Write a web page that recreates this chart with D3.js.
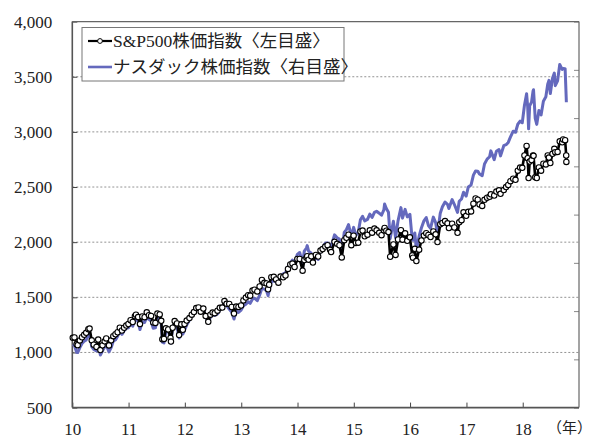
<!DOCTYPE html>
<html><head><meta charset="utf-8">
<script src="https://cdn.jsdelivr.net/npm/d3@7"></script>
<style>
html,body{margin:0;padding:0;background:#fff;}
svg text{font-family:"Liberation Serif","Noto Sans CJK JP",serif;fill:#222;}
</style></head>
<body><svg id="chart" width="593" height="438"></svg>
<script>
// ---- data (semi-monthly closes) ----
const dates = [
"2010-01-04","2010-01-15","2010-01-29","2010-02-05","2010-02-19","2010-03-05","2010-03-19","2010-04-01","2010-04-15","2010-04-23","2010-05-07","2010-05-20","2010-06-07","2010-06-18","2010-07-02","2010-07-16","2010-07-30","2010-08-09","2010-08-27","2010-09-10","2010-09-24","2010-10-08","2010-10-22","2010-11-05","2010-11-19","2010-12-03","2010-12-17","2010-12-31",
"2011-01-14","2011-01-28","2011-02-11","2011-02-18","2011-03-04","2011-03-16","2011-03-31","2011-04-15","2011-04-29","2011-05-13","2011-05-27","2011-06-10","2011-06-24","2011-07-07","2011-07-22","2011-08-01","2011-08-08","2011-08-19","2011-08-31","2011-09-15","2011-09-30","2011-10-03","2011-10-14","2011-10-27","2011-11-11","2011-11-25","2011-12-09","2011-12-19","2011-12-30",
"2012-01-13","2012-01-31","2012-02-15","2012-02-29","2012-03-15","2012-03-30","2012-04-13","2012-04-30","2012-05-15","2012-06-01","2012-06-15","2012-06-29","2012-07-13","2012-07-31","2012-08-15","2012-08-31","2012-09-14","2012-09-28","2012-10-15","2012-10-31","2012-11-15","2012-11-30","2012-12-14","2012-12-31",
"2013-01-15","2013-01-31","2013-02-15","2013-02-28","2013-03-15","2013-03-28","2013-04-15","2013-04-30","2013-05-15","2013-05-31","2013-06-14","2013-06-24","2013-07-01","2013-07-15","2013-07-31","2013-08-15","2013-08-30","2013-09-13","2013-09-30","2013-10-15","2013-10-31","2013-11-15","2013-11-29","2013-12-13","2013-12-31",
"2014-01-15","2014-02-03","2014-02-14","2014-02-28","2014-03-05","2014-03-14","2014-03-31","2014-04-11","2014-04-30","2014-05-15","2014-05-30","2014-06-13","2014-06-30","2014-07-15","2014-07-31","2014-08-07","2014-08-29","2014-09-15","2014-09-30","2014-10-15","2014-10-31","2014-11-14","2014-11-28","2014-12-16","2014-12-31",
"2015-01-15","2015-01-30","2015-02-13","2015-02-27","2015-03-13","2015-03-31","2015-04-15","2015-04-30","2015-05-15","2015-05-29","2015-06-15","2015-06-30","2015-07-15","2015-07-20","2015-07-31","2015-08-14","2015-08-25","2015-09-15","2015-09-29","2015-10-15","2015-11-03","2015-11-13","2015-11-30","2015-12-14","2015-12-31",
"2016-01-15","2016-01-20","2016-02-01","2016-02-11","2016-02-29","2016-03-15","2016-03-31","2016-04-15","2016-04-29","2016-05-13","2016-05-31","2016-06-15","2016-06-27","2016-07-15","2016-07-29","2016-08-15","2016-08-31","2016-09-09","2016-09-30","2016-10-14","2016-11-04","2016-11-15","2016-11-30","2016-12-13","2016-12-30",
"2017-01-13","2017-01-31","2017-02-15","2017-03-01","2017-03-15","2017-03-27","2017-04-13","2017-04-28","2017-05-15","2017-05-31","2017-06-08","2017-06-30","2017-07-14","2017-07-31","2017-08-10","2017-08-31","2017-09-15","2017-09-29","2017-10-13","2017-10-31","2017-11-15","2017-11-30","2017-12-15","2017-12-29",
"2018-01-12","2018-01-26","2018-02-02","2018-02-08","2018-02-15","2018-02-27","2018-03-09","2018-03-12","2018-03-23","2018-04-02","2018-04-16","2018-04-30","2018-05-15","2018-05-31","2018-06-12","2018-06-20","2018-06-29","2018-07-13","2018-07-25","2018-07-31","2018-08-15","2018-08-29","2018-09-14","2018-09-20","2018-10-03","2018-10-10","2018-10-11"
];
const sp500 = [
1133,1136,1074,1066,1109,1138,1160,1178,1211,1217,1110,1071,1050,1117,1022,1065,1101,1127,1064,1110,1148,1165,1183,1225,1199,1224,1244,1258,
1293,1276,1329,1343,1321,1257,1326,1320,1364,1338,1331,1271,1268,1353,1345,1287,1119,1123,1219,1209,1131,1099,1224,1285,1263,1158,1255,1205,1258,
1289,1312,1343,1366,1402,1408,1370,1398,1330,1278,1343,1362,1356,1379,1405,1407,1466,1441,1440,1412,1353,1416,1413,1426,
1472,1498,1519,1515,1561,1569,1553,1598,1658,1631,1626,1573,1614,1683,1686,1662,1633,1688,1682,1698,1757,1798,1806,1775,1848,
1848,1742,1838,1859,1873,1841,1872,1815,1884,1870,1924,1937,1960,1973,1931,1910,2003,1985,1972,1862,2018,2040,2068,1973,2059,
1993,1995,2097,2105,2053,2068,2107,2086,2123,2107,2085,2063,2108,2129,2104,2092,1868,1979,1884,2024,2109,2023,2080,2012,2044,
1880,1859,1940,1829,1932,2015,2060,2081,2065,2047,2097,2071,2001,2162,2174,2191,2171,2128,2168,2133,2085,2180,2199,2271,2239,
2275,2279,2349,2396,2385,2342,2329,2384,2403,2412,2434,2423,2459,2470,2438,2472,2500,2519,2553,2575,2565,2648,2676,2674,
2786,2873,2762,2581,2731,2744,2786,2783,2588,2582,2678,2648,2711,2705,2787,2767,2718,2801,2846,2816,2818,2914,2905,2931,2925,2786,2728
];
const nasdaq = [
2308,2288,2147,2141,2243,2327,2374,2402,2515,2530,2265,2204,2173,2309,2091,2179,2255,2305,2154,2242,2381,2402,2479,2578,2518,2592,2642,2653,
2755,2686,2809,2834,2784,2617,2781,2764,2873,2828,2796,2644,2652,2873,2858,2744,2358,2342,2579,2608,2415,2335,2667,2738,2679,2441,2647,2523,2605,
2710,2814,2915,2966,3056,3092,3011,3046,2893,2747,2872,2935,2908,2940,3031,3067,3184,3116,3044,2977,2836,3010,2971,3020,
3111,3142,3193,3160,3249,3268,3217,3329,3471,3456,3423,3321,3434,3607,3626,3606,3590,3722,3771,3794,3920,3986,4060,4000,4177,
4215,3996,4244,4308,4358,4245,4199,3999,4115,4069,4243,4310,4408,4416,4370,4334,4580,4519,4493,4215,4631,4688,4792,4547,4736,
4570,4635,4894,4964,4871,4901,5011,4941,5048,5070,5029,4987,5098,5219,5128,5048,4506,4861,4517,4870,5145,4927,5109,4953,5007,
4488,4472,4620,4267,4558,4728,4870,4938,4775,4718,4948,4835,4594,5030,5162,5262,5213,5126,5312,5214,5046,5276,5324,5464,5383,
5574,5615,5819,5904,5900,5840,5805,6048,6149,6199,6321,6140,6312,6348,6217,6428,6448,6496,6605,6728,6706,6873,6936,6903,
7261,7505,7240,6777,7256,7330,7560,7588,6993,6870,7157,7066,7351,7442,7704,7782,7510,7826,7932,7672,7774,8110,8010,8028,8025,7422,7329
];
const leftTicks = [500,1000,1500,2000,2500,3000,3500,4000];
const rightTicks = [1000,2000,3000,4000,5000,6000,7000,8000,9000];
const yearTicks = [2010,2011,2012,2013,2014,2015,2016,2017,2018];
const yearLabels = ["10","11","12","13","14","15","16","17","18"];
const legendLabels = ["S&P500株価指数〈左目盛〉","ナスダック株価指数〈右目盛〉"];
const unitLabel = "（年）";

// ---- drawing ----
const svg = d3.select("#chart");
const X0 = 72.3, X1 = 579, Y0 = 407.6, Y1 = 21.6;
const parse = d3.timeParse("%Y-%m-%d");
const x = d3.scaleTime().domain([new Date(2010,0,1), new Date(2019,0,1)]).range([X0, X1]);
const y = d3.scaleLinear().domain([500,4000]).range([Y0, Y1]);
const yR = d3.scaleLinear().domain([1000,9000]).range([Y0, Y1]);
const fmt = d3.format(",");

const spData = dates.map((d,i)=>({date:parse(d), v:sp500[i]}));
const nqData = dates.map((d,i)=>({date:parse(d), v:nasdaq[i]}));

// gridlines
svg.append("g").selectAll("line").data(leftTicks.filter(t=>t>500 && t<4000)).join("line")
  .attr("x1",X0).attr("x2",X1).attr("y1",d=>y(d)).attr("y2",d=>y(d))
  .attr("stroke","#777").attr("stroke-width",0.8).attr("stroke-dasharray","2,2");

// left axis
const gL = svg.append("g").attr("transform",`translate(${X0},0)`)
  .call(d3.axisLeft(y).tickValues(leftTicks).tickFormat(fmt).tickSize(-5).tickPadding(20));
gL.select(".domain").remove();
gL.selectAll(".tick line").attr("stroke","#444");
gL.selectAll("text").attr("font-size",17).attr("fill","#222")
  .attr("font-family","'Liberation Serif',serif");

// right axis ticks (inward, labels off-frame)
const gR = svg.append("g").attr("transform",`translate(${X1},0)`)
  .call(d3.axisLeft(yR).tickValues(rightTicks).tickFormat("").tickSize(5));
gR.select(".domain").remove();
gR.selectAll(".tick line").attr("stroke","#888");

// bottom axis
const gB = svg.append("g").attr("transform",`translate(0,${Y0})`)
  .call(d3.axisBottom(x).tickValues(yearTicks.map(t=>new Date(t,0,1)))
    .tickFormat((d,i)=>yearLabels[i]).tickSize(-5).tickPadding(15));
gB.select(".domain").remove();
gB.selectAll(".tick line").attr("stroke","#444");
gB.selectAll("text").attr("font-size",17).attr("fill","#222")
  .attr("font-family","'Liberation Serif',serif");
svg.append("text").attr("x",592).attr("y",Y0+15).attr("dy","0.71em")
  .attr("text-anchor","end").attr("font-size",15).text(unitLabel);

// frame
svg.append("line").attr("x1",X0).attr("x2",X1).attr("y1",Y1).attr("y2",Y1).attr("stroke","#666").attr("stroke-width",1.2);
svg.append("line").attr("x1",X1).attr("x2",X1).attr("y1",Y1).attr("y2",Y0).attr("stroke","#666").attr("stroke-width",1.2);
svg.append("line").attr("x1",X0).attr("x2",X0).attr("y1",Y1).attr("y2",Y0).attr("stroke","#555").attr("stroke-width",1.6);
svg.append("line").attr("x1",X0).attr("x2",X1).attr("y1",Y0).attr("y2",Y0).attr("stroke","#555").attr("stroke-width",1.6);

// nasdaq line
const blue = "#6469bd";
svg.append("path").datum(nqData)
  .attr("fill","none").attr("stroke",blue).attr("stroke-width",3).attr("stroke-linejoin","round")
  .attr("d", d3.line().x(d=>x(d.date)).y(d=>yR(d.v)));

// s&p line + markers
svg.append("path").datum(spData)
  .attr("fill","none").attr("stroke","#000").attr("stroke-width",2.6).attr("stroke-linejoin","round")
  .attr("d", d3.line().x(d=>x(d.date)).y(d=>y(d.v)));
svg.append("g").selectAll("circle").data(spData).join("circle")
  .attr("cx",d=>x(d.date)).attr("cy",d=>y(d.v)).attr("r",2.7)
  .attr("fill","#fff").attr("stroke","#000").attr("stroke-width",1.1);

// legend
const lg = svg.append("g");
lg.append("rect").attr("x",82).attr("y",27.5).attr("width",262).attr("height",53.5)
  .attr("fill","#fff").attr("stroke","#777").attr("stroke-width",1);
const rows = [41, 67];
lg.append("line").attr("x1",88).attr("x2",112).attr("y1",rows[0]).attr("y2",rows[0]).attr("stroke","#000").attr("stroke-width",2.2);
lg.append("circle").attr("cx",100).attr("cy",rows[0]).attr("r",2.4).attr("fill","#fff").attr("stroke","#000");
lg.append("line").attr("x1",88).attr("x2",112).attr("y1",rows[1]).attr("y2",rows[1]).attr("stroke",blue).attr("stroke-width",2.6);
lg.selectAll("text.lbl").data(legendLabels).join("text").attr("class","lbl")
  .attr("x",113).attr("y",(d,i)=>rows[i]).attr("dy","0.35em")
  .attr("font-size",17.5).text(d=>d);
</script></body></html>
